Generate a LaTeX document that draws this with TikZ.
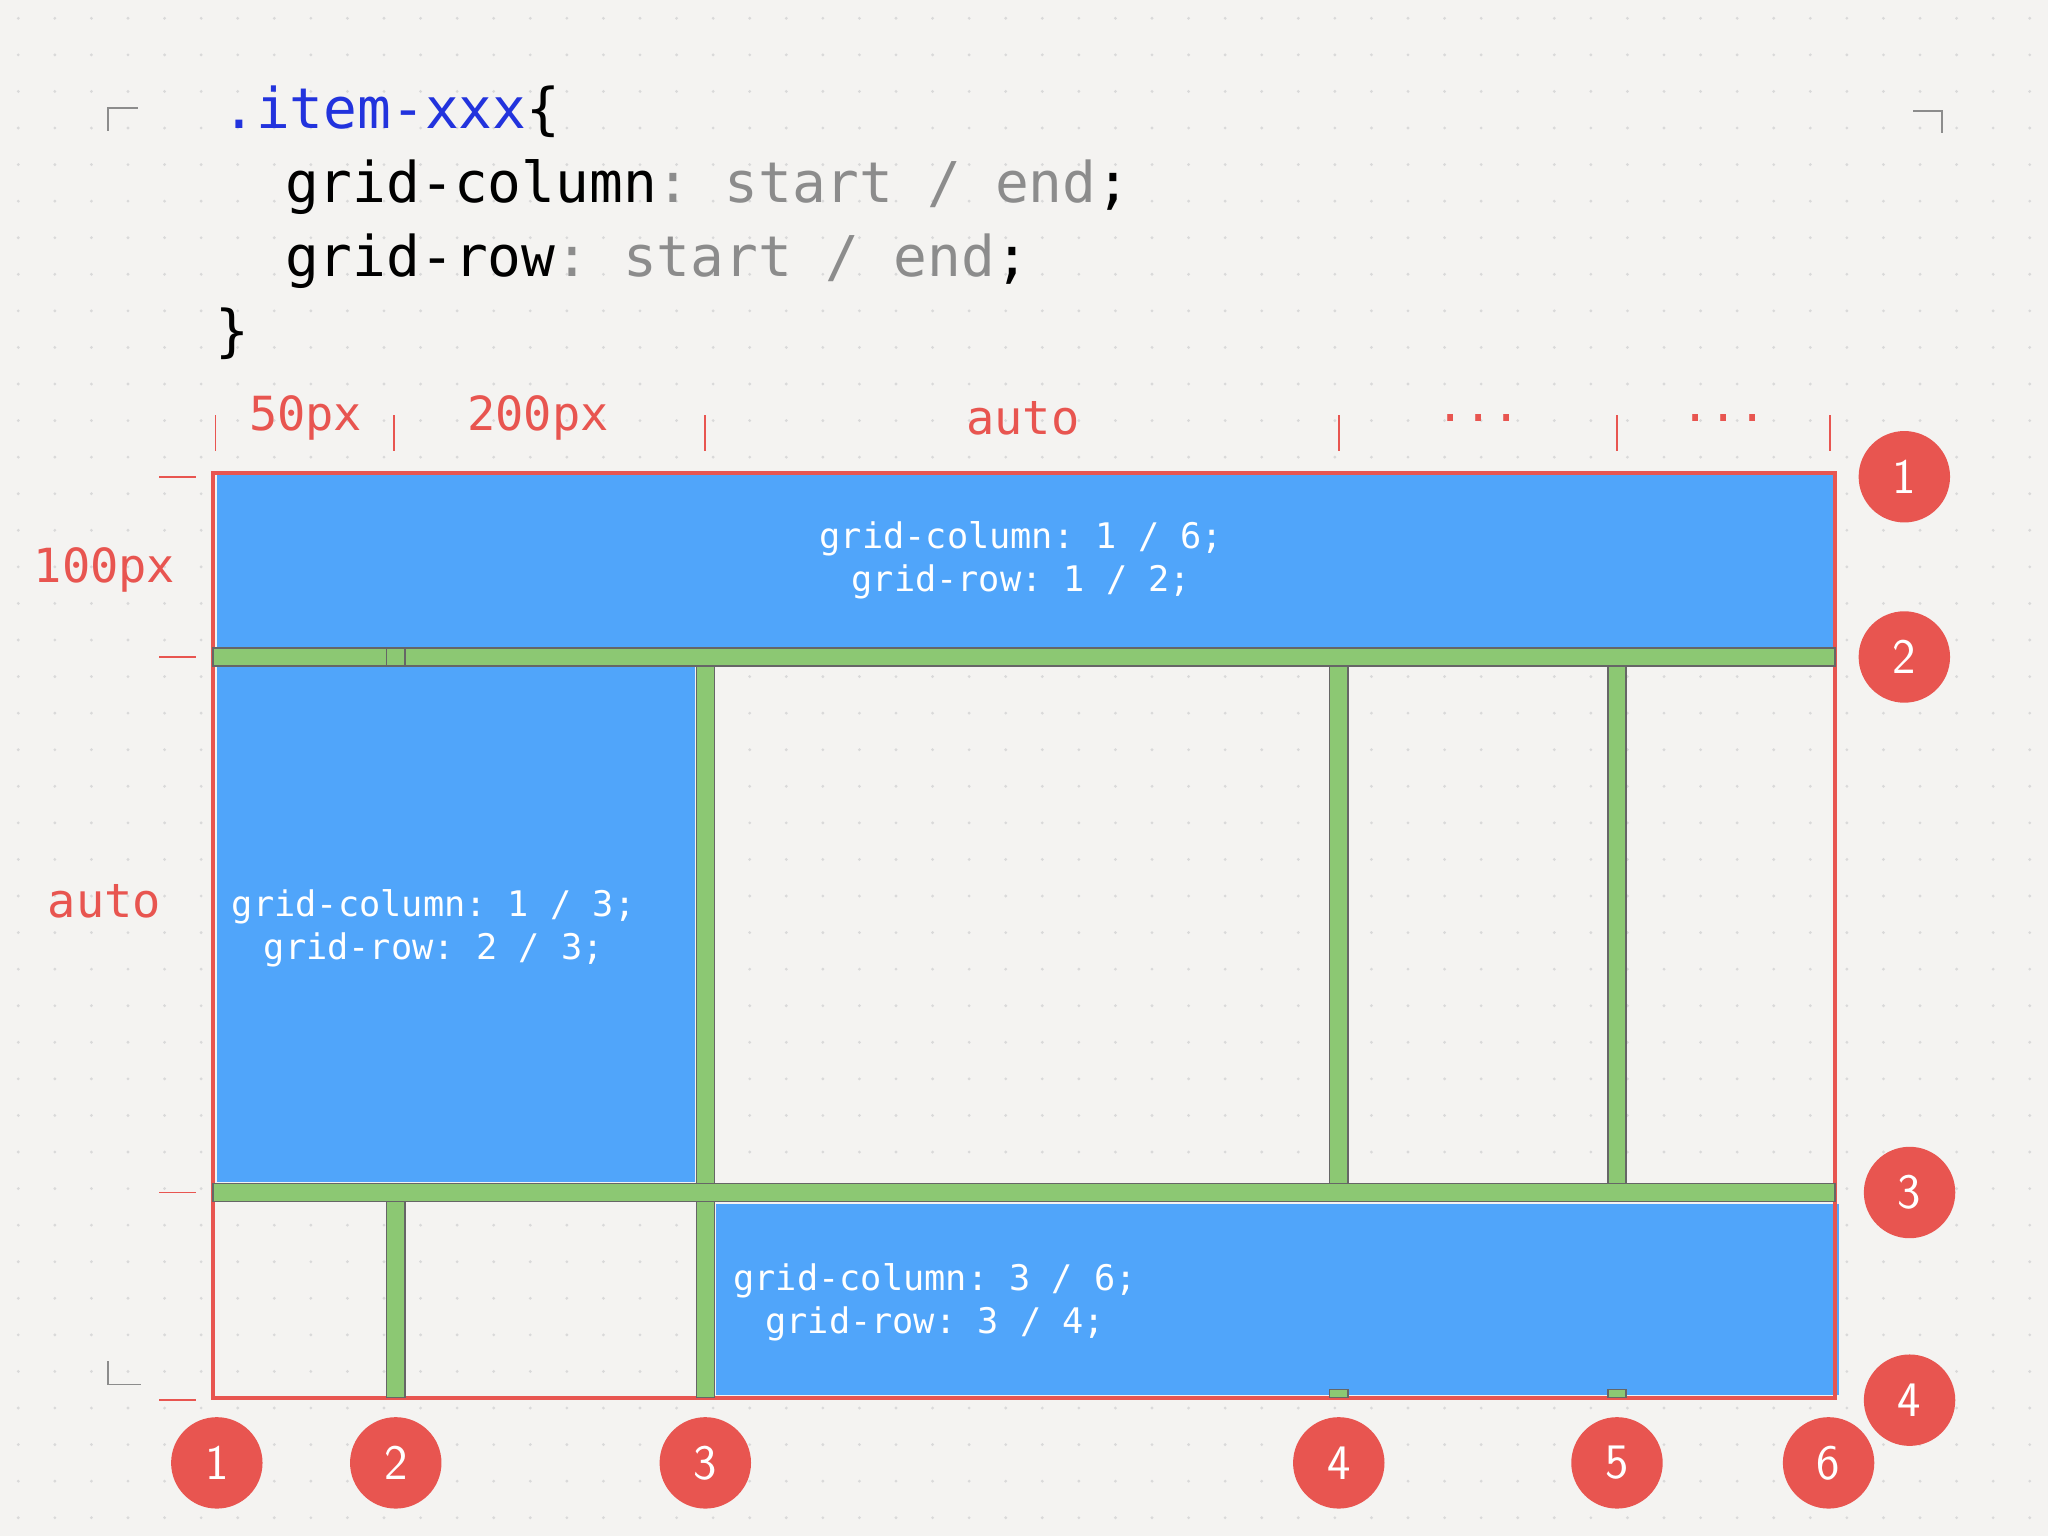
\documentclass[tikz,border=0pt]{standalone}
\usepackage{fontspec}
\setmonofont{DejaVu Sans Mono}
\begin{document}
\begin{tikzpicture}[x=1pt,y=-1pt,
  bluebox/.style={fill=blueF,draw=none},
  green/.style={fill=greenF,draw=black!60,line width=1pt},
  num/.style={circle,fill=redF,minimum size=70pt,inner sep=0pt,text=white,font=\fontsize{38}{38}\selectfont\sffamily},
  lab/.style={text=redF,font=\fontsize{36}{36}\selectfont\ttfamily},
  tick/.style={draw=redF,line width=1.5pt},
  boxt/.style={text=white,font=\fontsize{27}{33}\selectfont\ttfamily,align=center},
  corner/.style={draw=black!45,line width=1.5pt}]
\definecolor{blueF}{HTML}{50A5FA}
\definecolor{greenF}{HTML}{8CC873}
\definecolor{redF}{HTML}{E85550}
\definecolor{bgF}{HTML}{F4F3F1}
\definecolor{codeB}{HTML}{2233DD}
\useasboundingbox (0,0) rectangle (1568,1176);
\fill[bgF] (0,0) rectangle (1568,1176);
\foreach \i in {0,...,55} \foreach \j in {0,...,41}
  \fill[black!15] (14+\i*28,14+\j*28) circle (1.2pt);
% code
\node[anchor=base west,font=\fontsize{43}{43}\selectfont\ttfamily,inner sep=0] (c1) at (170,98) {\textcolor{codeB}{.item-xxx}\{};
\node[anchor=base west,font=\fontsize{43}{43}\selectfont\ttfamily,inner sep=0] (c2) at (218,155) {grid-column\textcolor{black!45}{: start / end};};
\node[anchor=base west,font=\fontsize{43}{43}\selectfont\ttfamily,inner sep=0] (c3) at (218,212) {grid-row\textcolor{black!45}{: start / end};};
\node[anchor=base west,font=\fontsize{43}{43}\selectfont\ttfamily,inner sep=0] (c4) at (165,268) {\}};
\draw[corner] (83,100)--(83,83)--(106,83);
\draw[corner] (1465,85)--(1487,85)--(1487,102);
\draw[corner] (83,1042)--(83,1060)--(108,1060);
% blue boxes
\fill[bluebox] (166,362) rectangle (1405,495);
\fill[bluebox] (166,510) rectangle (532,905);
\fill[bluebox] (548,922) rectangle (1408,1068);
% outer red
\draw[redF,line width=3pt] (163,362) rectangle (1405,1070);
% green lines
\draw[green] (163,496) rectangle (1405,510);
\draw[green] (163,906) rectangle (1405,920);
\draw[green] (296,496) rectangle (310,510);
\draw[green] (296,920) rectangle (310,1070);
\draw[green] (533,510) rectangle (547,906);
\draw[green] (533,920) rectangle (547,1070);
\draw[green] (1018,510) rectangle (1032,906);
\draw[green] (1231,510) rectangle (1245,906);
\draw[green] (1018,1064) rectangle (1032,1070);
\draw[green] (1231,1064) rectangle (1245,1070);
% box texts
\node[boxt] (t1) at (782,429) {grid-column: 1 / 6;\\grid-row: 1 / 2;};
\node[boxt] (t2) at (332,711) {grid-column: 1 / 3;\\grid-row: 2 / 3;};
\node[boxt] (t3) at (716,997) {grid-column: 3 / 6;\\grid-row: 3 / 4;};
% header labels & ticks
\node[lab] (h1) at (234,320) {50px};
\node[lab] (h2) at (412,320) {200px};
\node[lab] (h3) at (783,320) {auto};
\node[lab] (h4) at (1132,320) {...};
\node[lab] (h5) at (1320,320) {...};
\foreach \x in {165,302,540,1025,1238,1401} \draw[tick] (\x,318)--(\x,345);
\node[lab] (v1) at (80,436) {100px};
\node[lab] (v2) at (80,690) {auto};
\foreach \y in {365,503,913,1072} \draw[tick] (122,\y)--(150,\y);
% numbers
\foreach \x/\n in {166/1,303/2,540/3,1025/4,1238/5,1400/6} \node[num] (b\n) at (\x,1120) {\n};
\node[num] (r1) at (1458,365) {1};
\node[num] (r2) at (1458,503) {2};
\node[num] (r3) at (1462,913) {3};
\node[num] (r4) at (1462,1072) {4};
\end{tikzpicture}
\end{document}
